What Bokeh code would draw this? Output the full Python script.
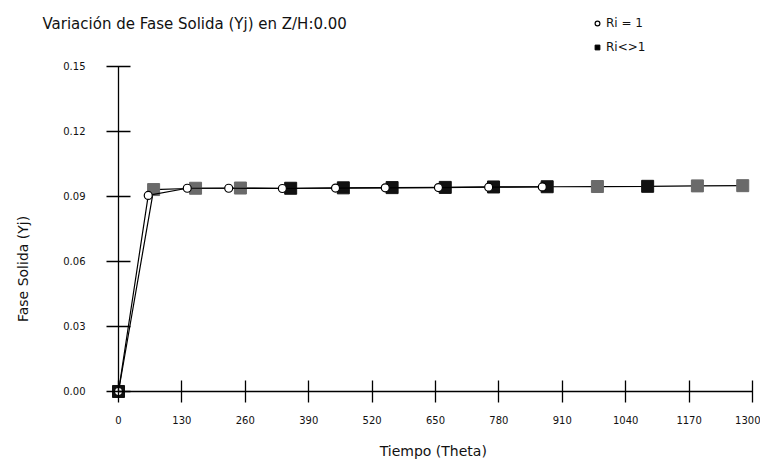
from bokeh.plotting import figure
from bokeh.models import (FixedTicker, Label, Legend, LegendItem, Range1d,
                          NumeralTickFormatter)
from bokeh.embed import file_html
from bokeh.resources import INLINE
import math

# ---- data ----
theta_ri1 = [0, 61, 141, 226, 336, 445, 547, 656, 759, 869]
yj_ri1 = [0.0, 0.0905, 0.0938, 0.0938, 0.0937, 0.0939, 0.0940, 0.0941, 0.0943, 0.0944]

theta_ri = [0, 72, 158, 250, 353, 461, 561, 670, 769, 879, 982, 1085, 1187, 1280]
yj_ri = [0.0, 0.0932, 0.0938, 0.0939, 0.0938, 0.0940, 0.0941, 0.0942, 0.0944,
         0.0945, 0.0946, 0.0947, 0.0949, 0.0950]

x_ticks = [0, 130, 260, 390, 520, 650, 780, 910, 1040, 1170, 1300]
y_ticks = [0.0, 0.03, 0.06, 0.09, 0.12, 0.15]

title_text = "Variación de Fase Solida (Yj) en Z/H:0.00"
x_title = "Tiempo  (Theta)"
y_title = "Fase  Solida  (Yj)"
legend_labels = ["Ri = 1", "Ri<>1"]

# ---- styles ----
sq_colors = ["#111111", "#6a6a6a", "#6a6a6a", "#6a6a6a", "#111111", "#111111",
             "#111111", "#111111", "#111111", "#111111", "#6a6a6a", "#111111",
             "#6a6a6a", "#6a6a6a"]
FONT = "DejaVu Sans"

p = figure(width=760, height=468, output_backend="svg", toolbar_location=None,
           x_range=Range1d(-241.96, 1316.4), y_range=Range1d(-0.03554, 0.18046),
           min_border_left=0, min_border_right=0, min_border_top=0,
           min_border_bottom=0)
p.outline_line_color = None
p.grid.visible = False
p.background_fill_color = "white"
p.border_fill_color = "white"

for ax in (p.xaxis[0], p.yaxis[0]):
    ax.fixed_location = 0
    ax.axis_line_color = "black"
    ax.axis_line_width = 1.3
    ax.major_tick_line_color = "black"
    ax.major_tick_line_width = 1.3
    ax.minor_tick_line_color = None
    ax.major_label_text_font = FONT
    ax.major_label_text_font_size = "10px"
    ax.major_label_text_color = "#111111"

p.xaxis.ticker = FixedTicker(ticks=x_ticks)
p.xaxis.bounds = (0, 1300)
p.xaxis.major_tick_in = 11
p.xaxis.major_tick_out = 11
p.xaxis.major_label_standoff = 14
p.xaxis.axis_label = x_title
p.xaxis.axis_label_text_font = FONT
p.xaxis.axis_label_text_font_size = "14px"
p.xaxis.axis_label_text_font_style = "normal"
p.xaxis.axis_label_text_color = "#111111"
p.xaxis.axis_label_standoff = 15

p.yaxis.ticker = FixedTicker(ticks=y_ticks)
p.yaxis.bounds = (0, 0.15)
p.yaxis.major_tick_in = 12
p.yaxis.major_tick_out = 12
p.yaxis.major_label_standoff = 21
p.yaxis.formatter = NumeralTickFormatter(format="0.00")

# series Ri<>1 (filled squares)
p.line(theta_ri, yj_ri, line_color="black", line_width=1.2)
sq = p.scatter(theta_ri, yj_ri, marker="square", size=12,
               fill_color=sq_colors, line_color=sq_colors)
# series Ri = 1 (open circles)
p.line(theta_ri1, yj_ri1, line_color="black", line_width=1.2)
ci = p.scatter(theta_ri1, yj_ri1, marker="circle", size=8,
               fill_color="white", line_color="black", line_width=1.2)

# legend-only renderers (single style)
ci_leg = p.scatter([-1000], [-1], marker="circle", size=8, fill_color="white",
                   line_color="black", line_width=1.2)
sq_leg = p.scatter([-1000], [-1], marker="square", size=10, fill_color="black",
                   line_color="black")
legend = Legend(items=[LegendItem(label=legend_labels[0], renderers=[ci_leg]),
                       LegendItem(label=legend_labels[1], renderers=[sq_leg])],
                location=(591, 414), orientation="vertical")
legend.background_fill_alpha = 0
legend.border_line_color = None
legend.padding = 0
legend.margin = 0
legend.spacing = 10
legend.glyph_width = 12
legend.glyph_height = 14
legend.label_standoff = 3
legend.label_text_font = FONT
legend.label_text_font_size = "12px"
legend.label_text_color = "#111111"
p.add_layout(legend, "center")

# title
p.add_layout(Label(x=42, y=445, x_units="screen", y_units="screen",
                   text=title_text, text_font=FONT, text_font_size="15px",
                   text_color="#111111", text_baseline="alphabetic"))
# y axis title
p.add_layout(Label(x=22, y=204, x_units="screen", y_units="screen",
                   text=y_title, angle=math.pi / 2, text_font=FONT,
                   text_font_size="14px", text_color="#111111",
                   text_align="center", text_baseline="middle"))

open("out.html", "w").write(file_html(p, INLINE))
